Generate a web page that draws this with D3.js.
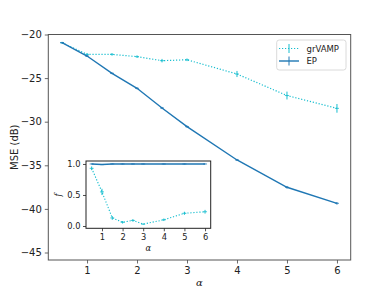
<!DOCTYPE html>
<html><head><meta charset="utf-8">
<script src="https://cdn.jsdelivr.net/npm/d3@7"></script>
<style>body{margin:0;background:#fff}svg{font-family:"DejaVu Sans",sans-serif}</style>
</head><body><svg id="c" width="390" height="293"></svg>
<script>
const alphas = [0.5, 1, 1.5, 2, 2.5, 3, 4, 5, 6];
const grvampMSE = [-20.94, -22.28, -22.28, -22.54, -23.0, -22.9, -24.53, -27.0, -28.47];
const grvampErr = [0.1, 0.15, 0.15, 0.15, 0.2, 0.15, 0.35, 0.45, 0.5];
const epMSE = [-20.94, -22.47, -24.45, -26.17, -28.43, -30.57, -34.39, -37.52, -39.36];
const epErr = [0.08, 0.1, 0.1, 0.12, 0.12, 0.12, 0.12, 0.15, 0.15];
const grvampF = [0.93, 0.55, 0.13, 0.06, 0.09, 0.03, 0.10, 0.205, 0.23];
const grvampFErr = [0.03, 0.05, 0.03, 0.02, 0.02, 0.01, 0.02, 0.025, 0.03];
const epF = [1.0, 0.99, 1.0, 1.0, 1.0, 1.0, 1.0, 1.0, 1.0];
const epFErr = [0.005, 0.005, 0.005, 0.005, 0.005, 0.005, 0.005, 0.005, 0.005];
const mainYTicks = [-45, -40, -35, -30, -25, -20];
const xTicks = [1, 2, 3, 4, 5, 6];
const insetYTicks = [0.0, 0.5, 1.0];
const seriesNames = ["grVAMP", "EP"];

const cEP = "#1f77b4", cGR = "#17becf";
const svg = d3.select("#c");
const fmtMinus = d => String(d).replace("-", "\u2212");

// main axes
const L = 48.3, R = 350.7, T = 34.5, B = 260;
const x = d3.scaleLinear().domain([0.225, 6.275]).range([L, R]);
const y = d3.scaleLinear().domain([-45.86, -20]).range([B, T]);

function drawSeries(g, xs, ys, vals, errs, color, dotted, w) {
  const line = d3.line().x((d, i) => xs(alphas[i])).y(d => ys(d));
  g.append("path").datum(vals).attr("d", line).attr("fill", "none")
    .attr("stroke", color).attr("stroke-width", w)
    .attr("stroke-dasharray", dotted ? "1.2,1.8" : null);
  g.selectAll(null).data(vals).enter().append("line")
    .attr("x1", (d, i) => xs(alphas[i])).attr("x2", (d, i) => xs(alphas[i]))
    .attr("y1", (d, i) => ys(d - errs[i])).attr("y2", (d, i) => ys(d + errs[i]))
    .attr("stroke", color).attr("stroke-width", 1);
  g.selectAll(null).data(vals).enter().append("line")
    .attr("x1", (d, i) => xs(alphas[i]) - 2).attr("x2", (d, i) => xs(alphas[i]) + 2)
    .attr("y1", d => ys(d)).attr("y2", d => ys(d))
    .attr("stroke", color).attr("stroke-width", 0.8);
}

const gm = svg.append("g");
drawSeries(gm, x, y, grvampMSE, grvampErr, cGR, true, 1.2);
drawSeries(gm, x, y, epMSE, epErr, cEP, false, 1.4);

const xAx = svg.append("g").attr("transform", `translate(0,${B})`)
  .call(d3.axisBottom(x).tickValues(xTicks).tickSize(3.5).tickPadding(3).tickFormat(d3.format("d")));
const yAx = svg.append("g").attr("transform", `translate(${L},0)`)
  .call(d3.axisLeft(y).tickValues(mainYTicks).tickSize(3.5).tickPadding(3).tickFormat(fmtMinus));
[xAx, yAx].forEach(a => {
  a.select(".domain").remove();
  a.selectAll("line").attr("stroke", "#444").attr("stroke-width", 0.8);
  a.selectAll("text").attr("font-size", 10).attr("fill", "#222").attr("font-family", "DejaVu Sans");
});
svg.append("rect").attr("x", L).attr("y", T).attr("width", R - L).attr("height", B - T)
  .attr("fill", "none").attr("stroke", "#555").attr("stroke-width", 1);

svg.append("text").attr("transform", `translate(15,${(T + B) / 2}) rotate(-90)`)
  .attr("text-anchor", "middle").attr("dominant-baseline", "middle")
  .attr("font-size", 10).attr("fill", "#222").text("MSE (dB)");
svg.append("text").attr("x", (L + R) / 2).attr("y", 286).attr("text-anchor", "middle")
  .attr("font-size", 10).attr("font-style", "italic").attr("font-family", "DejaVu Serif")
  .attr("fill", "#222").text("α");

// legend
const lg = svg.append("g");
lg.append("rect").attr("x", 276.7).attr("y", 40).attr("width", 69.3).attr("height", 30)
  .attr("rx", 2.5).attr("fill", "#fff").attr("fill-opacity", 0.8).attr("stroke", "#d0d0d0").attr("stroke-width", 0.8);
const legY = [48.5, 61];
const legC = [cGR, cEP];
seriesNames.forEach((n, i) => {
  lg.append("line").attr("x1", 279).attr("x2", 299).attr("y1", legY[i]).attr("y2", legY[i])
    .attr("stroke", legC[i]).attr("stroke-width", i ? 1.4 : 1.2).attr("stroke-dasharray", i ? null : "1.2,1.8");
  lg.append("line").attr("x1", 289).attr("x2", 289).attr("y1", legY[i] - 4.5).attr("y2", legY[i] + 4.5)
    .attr("stroke", legC[i]).attr("stroke-width", 1);
  lg.append("text").attr("x", 306.5).attr("y", legY[i]).attr("dominant-baseline", "central")
    .attr("font-size", 8.5).attr("fill", "#222").text(n);
});

// inset
const iL = 86, iR = 210.7, iT = 161, iB = 228.3;
const xi = d3.scaleLinear().domain([0.225, 6.275]).range([iL, iR]);
const yi = d3.scaleLinear().domain([-0.037, 1.048]).range([iB, iT]);
svg.append("rect").attr("x", iL).attr("y", iT).attr("width", iR - iL).attr("height", iB - iT)
  .attr("fill", "#fff");
const gi = svg.append("g");
drawSeries(gi, xi, yi, grvampF, grvampFErr, cGR, true, 1.1);
drawSeries(gi, xi, yi, epF, epFErr, cEP, false, 1.5);
const xiAx = svg.append("g").attr("transform", `translate(0,${iB})`)
  .call(d3.axisBottom(xi).tickValues(xTicks).tickSize(3).tickPadding(2.5).tickFormat(d3.format("d")));
const yiAx = svg.append("g").attr("transform", `translate(${iL},0)`)
  .call(d3.axisLeft(yi).tickValues(insetYTicks).tickSize(3).tickPadding(2.5).tickFormat(d3.format(".1f")));
[xiAx, yiAx].forEach(a => {
  a.select(".domain").remove();
  a.selectAll("line").attr("stroke", "#222").attr("stroke-width", 0.8);
  a.selectAll("text").attr("font-size", 8.3).attr("fill", "#222").attr("font-family", "DejaVu Sans");
});
svg.append("rect").attr("x", iL).attr("y", iT).attr("width", iR - iL).attr("height", iB - iT)
  .attr("fill", "none").attr("stroke", "#222").attr("stroke-width", 1);
svg.append("text").attr("x", 58).attr("y", 195).attr("text-anchor", "middle").attr("dominant-baseline", "middle")
  .attr("transform", "rotate(-90,58,195)")
  .attr("font-size", 8.3).attr("font-style", "italic").attr("font-family", "DejaVu Serif").attr("fill", "#222").text("f");
svg.append("text").attr("x", (iL + iR) / 2).attr("y", 251).attr("text-anchor", "middle")
  .attr("font-size", 8.3).attr("font-style", "italic").attr("font-family", "DejaVu Serif").attr("fill", "#222").text("α");
</script></body></html>
